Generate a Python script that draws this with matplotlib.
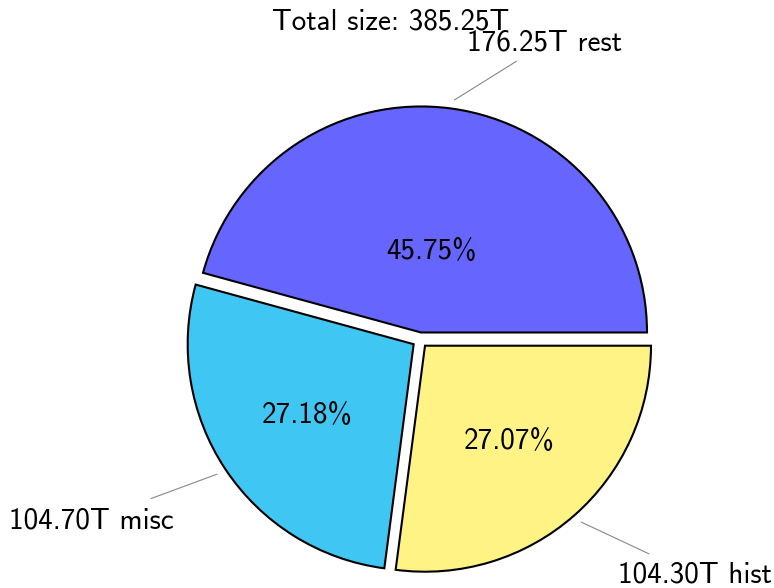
import numpy as np
import matplotlib.pyplot as plt

# data (sizes in T)
names = ['rest', 'misc', 'hist']
sizes = [176.25, 104.70, 104.30]
colors = ['#6666ff', '#40c6f3', '#fff385']

# label placement (data units, pie radius = 1)
label_xy = [(0.553, 1.279), (-1.454, -0.832), (1.217, -1.075)]
line_gap = [2, 12, 9]          # shrink of the leader line at the text end (pt)
pct_dist = [0.363, 0.567, 0.562]
explode = 0.0336

total = sum(sizes)

fig = plt.figure(figsize=(7.74, 5.88), dpi=100)
ax = fig.add_axes([0, 0, 1, 1])
ax.axis('off')

font = 'cmss10'
fs = 21

wedges, _ = ax.pie(sizes, colors=colors, startangle=0, counterclock=True,
                   explode=[explode] * len(sizes), radius=1,
                   wedgeprops=dict(edgecolor='black', linewidth=1.5))

# center of the pie at (420, 340) px, radius 226 px
r_px = 226.0
cx_px, cy_px = 420, 340
ax.set_xlim(-cx_px / r_px, (774 - cx_px) / r_px)
ax.set_ylim(-(588 - cy_px) / r_px, cy_px / r_px)

for i, w in enumerate(wedges):
    ang = np.deg2rad((w.theta1 + w.theta2) / 2)
    cx, cy = w.center
    # percentage inside the wedge
    px = cx + pct_dist[i] * np.cos(ang)
    py = cy + pct_dist[i] * np.sin(ang)
    ax.text(px, py, '{:.2f}%'.format(sizes[i] / total * 100),
            ha='center', va='center', fontsize=fs, family=font)
    # outer label with a thin line
    x = 1.065 * np.cos(ang)
    y = 1.065 * np.sin(ang)
    ax.annotate('{:.2f}T {}'.format(sizes[i], names[i]), xy=(x, y),
                xytext=label_xy[i], ha='center', va='baseline',
                fontsize=fs, family=font,
                arrowprops=dict(arrowstyle='-', color='#888888', lw=0.8,
                                shrinkA=line_gap[i], shrinkB=2))

fig.text(391 / 774, 1 - 29 / 588, 'Total size: {:.2f}T'.format(total),
         ha='center', va='baseline', fontsize=fs, family=font)

fig.savefig('out.png', dpi=100)
